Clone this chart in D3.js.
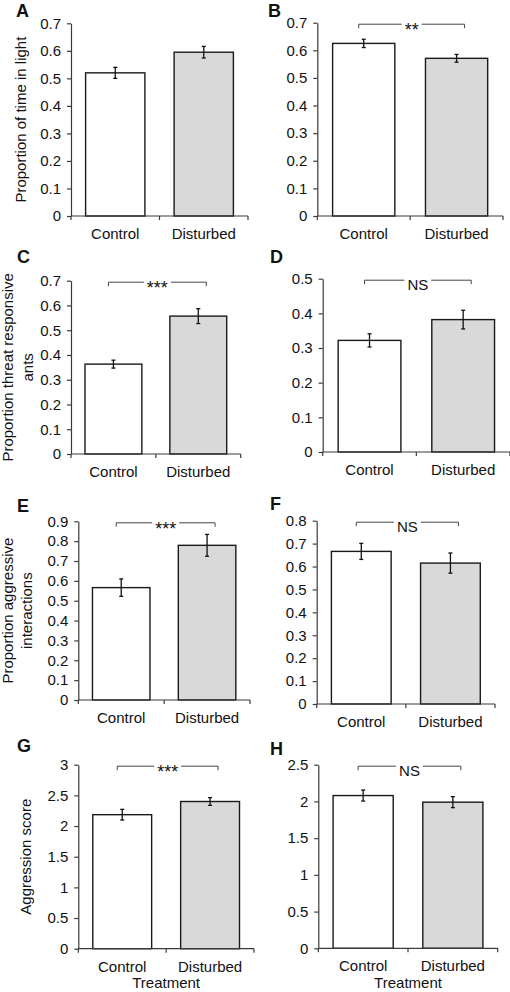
<!DOCTYPE html>
<html>
<head>
<meta charset="utf-8">
<script src="https://cdn.jsdelivr.net/npm/d3@7"></script>
<style>
  body { margin: 0; background: #fff; }
  svg { display: block; font-family: Arial, "Liberation Sans", sans-serif; }
</style>
</head>
<body>
<svg id="chart" width="510" height="992"></svg>
<script>
// ---- data ----
const categories = ["Control", "Disturbed"];
const panelLetters = ["A", "B", "C", "D", "E", "F", "G", "H"];
const yTitles = [
  ["Proportion of time in light"], [],
  ["Proportion threat responsive", "ants"], [],
  ["Proportion aggressive", "interactions"], [],
  ["Aggression score"], []
];
const xTitles = ["", "", "", "", "", "", "Treatment", "Treatment"];
const means = [
  [0.520, 0.595], [0.625, 0.571],
  [0.363, 0.557], [0.322, 0.382],
  [0.566, 0.779], [0.666, 0.615],
  [2.185, 2.400], [2.080, 1.990]
];
const errors = [
  [0.020, 0.021], [0.015, 0.014],
  [0.016, 0.030], [0.019, 0.027],
  [0.044, 0.055], [0.035, 0.044],
  [0.087, 0.063], [0.075, 0.075]
];
const yTicks = [
  [0, 0.1, 0.2, 0.3, 0.4, 0.5, 0.6, 0.7],
  [0, 0.1, 0.2, 0.3, 0.4, 0.5, 0.6, 0.7],
  [0, 0.1, 0.2, 0.3, 0.4, 0.5, 0.6, 0.7],
  [0, 0.1, 0.2, 0.3, 0.4, 0.5],
  [0, 0.1, 0.2, 0.3, 0.4, 0.5, 0.6, 0.7, 0.8, 0.9],
  [0, 0.1, 0.2, 0.3, 0.4, 0.5, 0.6, 0.7, 0.8],
  [0, 0.5, 1, 1.5, 2, 2.5, 3],
  [0, 0.5, 1, 1.5, 2, 2.5]
];
const sigLabels = [null, "**", "***", "NS", "***", "NS", "***", "NS"];

// ---- layout (pixel geometry of each panel) ----
const layout = [
  { x0: 71,    x1: 248,   yTop: 23.3,  yZero: 216,   lx: 16,  ly: 17,  tx: [25.5] },
  { x0: 317.3, x1: 503,   yTop: 22.7,  yZero: 216,   lx: 268, ly: 17,  tx: [] },
  { x0: 71,    x1: 240.7, yTop: 280.7, yZero: 454,   lx: 17,  ly: 263, tx: [12.5, 32.5] },
  { x0: 322.7, x1: 510,   yTop: 278.7, yZero: 452,   lx: 270, ly: 263, tx: [] },
  { x0: 78.3,  x1: 250,   yTop: 521.3, yZero: 700,   lx: 17,  ly: 512, tx: [13, 31.5] },
  { x0: 316.7, x1: 495,   yTop: 520.7, yZero: 704,   lx: 270, ly: 510, tx: [] },
  { x0: 78.3,  x1: 254,   yTop: 764.7, yZero: 948.7, lx: 17,  ly: 752, tx: [30.5] },
  { x0: 318.3, x1: 497.7, yTop: 764.7, yZero: 948.3, lx: 270, ly: 755, tx: [] }
];

const fills = ["#ffffff", "#d9d9d9"];
const axisColor = "#3a3a3a";
const fontSize = 15;

const svg = d3.select("#chart");

panelLetters.forEach((letter, i) => {
  const L = layout[i];
  const ticks = yTicks[i];
  const yMax = ticks[ticks.length - 1];
  const g = svg.append("g");

  const x = d3.scaleBand().domain(categories).range([L.x0, L.x1]).paddingInner(0.33).paddingOuter(0.165);
  const y = d3.scaleLinear().domain([0, yMax]).range([L.yZero, L.yTop]);

  // y axis
  const yAxis = d3.axisLeft(y).tickValues(ticks).tickSizeInner(4).tickSizeOuter(0).tickPadding(6)
    .tickFormat(d => d3.format("~g")(d));
  const ya = g.append("g").attr("transform", `translate(${L.x0},0)`).call(yAxis);
  ya.select(".domain").attr("stroke", axisColor).attr("stroke-width", 1.2);
  ya.selectAll(".tick line").attr("stroke", axisColor).attr("stroke-width", 1.2);
  ya.selectAll(".tick text").attr("fill", "#111").style("font-size", fontSize + "px")
    .style("font-family", "Arial, 'Liberation Sans', sans-serif");

  // bars
  g.selectAll("rect.bar").data(categories).join("rect")
    .attr("class", "bar")
    .attr("x", d => x(d))
    .attr("width", x.bandwidth())
    .attr("y", (d, j) => y(means[i][j]))
    .attr("height", (d, j) => y(0) - y(means[i][j]))
    .attr("fill", (d, j) => fills[j])
    .attr("stroke", "#1a1a1a")
    .attr("stroke-width", 1.4);

  // x axis line with boundary ticks
  g.append("line").attr("x1", L.x0).attr("x2", L.x1).attr("y1", y(0)).attr("y2", y(0))
    .attr("stroke", axisColor).attr("stroke-width", 1.2);
  const mid = (L.x0 + L.x1) / 2;
  [L.x0, mid, L.x1].forEach(bx => {
    g.append("line").attr("x1", bx).attr("x2", bx).attr("y1", y(0)).attr("y2", y(0) + 4)
      .attr("stroke", axisColor).attr("stroke-width", 1.2);
  });

  // category labels
  g.selectAll("text.cat").data(categories).join("text")
    .attr("class", "cat")
    .attr("x", d => x(d) + x.bandwidth() / 2)
    .attr("y", y(0) + 23)
    .attr("text-anchor", "middle")
    .style("font-size", fontSize + "px")
    .attr("fill", "#111")
    .text(d => d);

  // error bars
  categories.forEach((c, j) => {
    const cx = x(c) + x.bandwidth() / 2;
    const lo = y(means[i][j] - errors[i][j]);
    const hi = y(means[i][j] + errors[i][j]);
    g.append("line").attr("x1", cx).attr("x2", cx).attr("y1", lo).attr("y2", hi)
      .attr("stroke", "#111").attr("stroke-width", 1.3);
    [lo, hi].forEach(yy => {
      g.append("line").attr("x1", cx - 2).attr("x2", cx + 2).attr("y1", yy).attr("y2", yy)
        .attr("stroke", "#111").attr("stroke-width", 1.3);
    });
  });

  // significance bracket
  if (sigLabels[i]) {
    const bx1 = x(categories[0]) + x.bandwidth() / 2 - 5;
    const bx2 = x(categories[1]) + x.bandwidth() / 2 + 8;
    const by = y(yMax) + 1.5;
    g.append("path")
      .attr("d", `M${bx1},${by + 4}V${by}H${bx2}V${by + 4}`)
      .attr("fill", "none").attr("stroke", "#444").attr("stroke-width", 1);
    const cx = (bx1 + bx2) / 2;
    const isStar = sigLabels[i].startsWith("*");
    const bg = g.append("rect").attr("fill", "#fff");
    const t = g.append("text")
      .attr("x", cx).attr("y", by + (isStar ? 12 : 10))
      .attr("text-anchor", "middle")
      .style("font-size", (isStar ? 18 : fontSize) + "px")
      .attr("fill", "#111")
      .text(sigLabels[i]);
    const w = t.node().getComputedTextLength();
    bg.attr("x", cx - w / 2 - 3).attr("y", by - 2)
      .attr("width", w + 6).attr("height", 4);
  }

  // y title
  const lines = yTitles[i];
  const cy = (L.yTop + L.yZero) / 2;
  lines.forEach((line, k) => {
    g.append("text")
      .attr("transform", `translate(${L.tx[k]},${cy}) rotate(-90)`)
      .attr("text-anchor", "middle")
      .style("font-size", fontSize + "px")
      .attr("fill", "#111")
      .text(line);
  });

  // x title
  if (xTitles[i]) {
    g.append("text")
      .attr("x", (L.x0 + L.x1) / 2)
      .attr("y", y(0) + 39.5)
      .attr("text-anchor", "middle")
      .style("font-size", fontSize + "px")
      .attr("fill", "#111")
      .text(xTitles[i]);
  }

  // panel letter
  g.append("text")
    .attr("x", L.lx).attr("y", L.ly)
    .style("font-size", "18px").style("font-weight", "bold")
    .attr("fill", "#111")
    .text(letter);
});
</script>
</body>
</html>
